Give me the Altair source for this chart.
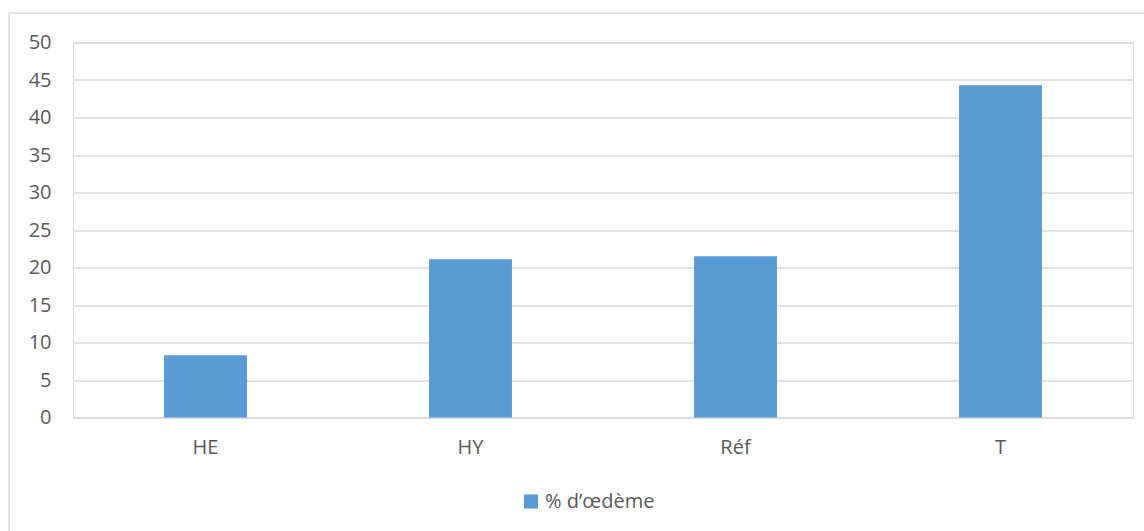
import altair as alt
import pandas as pd

# Share of oedema per treatment
categories = ["HE", "HY", "Réf", "T"]
values = [8.3, 21.1, 21.5, 44.3]
series_name = "% d’œdème"

df = pd.DataFrame({"groupe": categories, "valeur": values, "serie": [series_name] * len(categories)})

FONT = "Open Sans"
TEXT = "#595959"
GRID = "#d9d9d9"
BAR = "#5b9bd5"

bars = alt.Chart(df).mark_bar(color=BAR).encode(
    x=alt.X(
        "groupe:N",
        sort=categories,
        title=None,
        scale=alt.Scale(paddingInner=0.687, paddingOuter=0.3435),
        axis=alt.Axis(
            labelAngle=0, labelFont=FONT, labelFontSize=20, labelColor=TEXT,
            ticks=False, domain=True, domainColor=GRID, domainWidth=1,
            labelPadding=20, grid=False,
        ),
    ),
    y=alt.Y(
        "valeur:Q",
        title=None,
        scale=alt.Scale(domain=[0, 50], nice=False),
        axis=alt.Axis(
            values=list(range(0, 51, 5)), labelFont=FONT, labelFontSize=20,
            labelColor=TEXT, ticks=False, domain=False, grid=True,
            gridColor=GRID, gridWidth=1.3, labelPadding=22,
        ),
    ),
    color=alt.Color(
        "serie:N",
        scale=alt.Scale(range=[BAR]),
        legend=alt.Legend(
            title=None, orient="none", legendX=448, legendY=449,
            symbolType="square", symbolSize=200, symbolStrokeWidth=0,
            labelFont=FONT, labelFontSize=20, labelColor=TEXT, labelOffset=4,
        ),
    ),
)

# Chart frame: top and left edges (the rest runs past the page)
one = pd.DataFrame({"k": [0]})
frame_top = alt.Chart(one).mark_rule(color=GRID, strokeWidth=1.5).encode(
    x=alt.value(-64), x2=alt.value(1071), y=alt.value(-29.5)
)
frame_left = alt.Chart(one).mark_rule(color=GRID, strokeWidth=1.5).encode(
    x=alt.value(-64), y=alt.value(-29.5), y2=alt.value(140 + 375)
)

chart = alt.layer(frame_top, frame_left, bars).properties(
    width=1060,
    height=375,
    padding={"left": 73, "top": 42.5, "right": 11, "bottom": 113.5},
    autosize=alt.AutoSizeParams(type="none"),
).configure_view(stroke=None).configure(background="white")

chart.save("out.html", embed_options={"renderer": "svg", "actions": False})
